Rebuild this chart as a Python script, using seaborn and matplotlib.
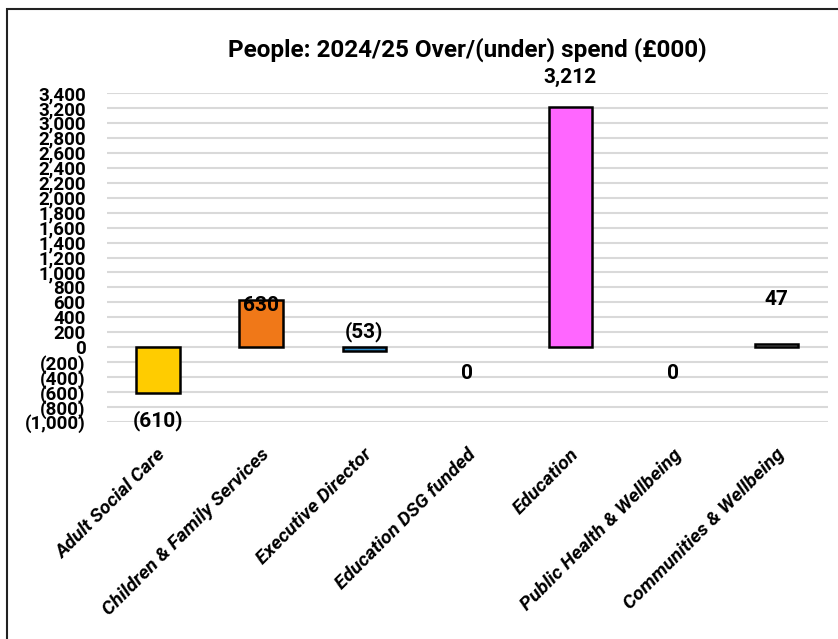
import matplotlib
matplotlib.use("Agg")
import matplotlib.pyplot as plt
import matplotlib.transforms as mtransforms
from matplotlib.patches import Rectangle
from matplotlib.ticker import FuncFormatter, MultipleLocator
import seaborn as sns
import pandas as pd

categories = ["Adult Social Care", "Children & Family Services", "Executive Director",
              "Education DSG funded", "Education", "Public Health & Wellbeing",
              "Communities & Wellbeing"]
values = [-610, 630, -53, 0, 3212, 0, 47]
colors = ["#FFCC00", "#F07818", "#2E8BC8", "#CCCCCC", "#FF66FF", "#CCCCCC", "#A6A6A6"]
title = "People: 2024/25 Over/(under) spend (£000)"

sns.set_theme(style="white")
plt.rcParams['font.family'] = ['Roboto', 'DejaVu Sans']

df = pd.DataFrame({"cat": categories, "val": values})

fig = plt.figure(figsize=(8.38, 6.39), dpi=100)
ax = fig.add_axes([106.5 / 838, 1 - 422 / 639, (828 - 106.5) / 838, (422 - 93) / 639])

sns.barplot(data=df, x="cat", y="val", hue="cat", palette=colors, legend=False,
            saturation=1, width=0.42, edgecolor="black", linewidth=1.8, ax=ax, zorder=3)
for p in ax.patches:
    if p.get_height() == 0:
        p.set_linewidth(0)
        p.set_alpha(0)

ax.set_ylim(-1000, 3400)
ax.set_xlim(-0.5, len(categories) - 0.5)
ax.yaxis.set_major_locator(MultipleLocator(200))


def fmt(v, pos):
    v = int(round(v))
    if v < 0:
        return "({:,})".format(-v)
    return "{:,}".format(v)


ax.yaxis.set_major_formatter(FuncFormatter(fmt))
ax.grid(axis="y", color="#D9D9D9", linewidth=1.5, zorder=0)
ax.grid(axis="x", visible=False)
for s in ax.spines.values():
    s.set_visible(False)
ax.tick_params(axis="both", length=0)
ax.tick_params(axis="y", pad=15)
for lab in ax.get_yticklabels():
    lab.set_fontsize(13.5)
    lab.set_fontweight("bold")
    lab.set_color("black")

ax.set_xlabel("")
ax.set_ylabel("")
ax.set_xticks(range(len(categories)))
ax.set_xticklabels(categories, rotation=45, ha="right", rotation_mode="anchor",
                   fontsize=14, fontweight="bold", fontstyle="italic", color="black")
ax.tick_params(axis="x", pad=17)
offset = mtransforms.ScaledTranslation(-1 / 100, 0, fig.dpi_scale_trans)
for lab in ax.get_xticklabels():
    lab.set_transform(lab.get_transform() + offset)

ax.set_title(title, fontsize=17.5, fontweight="bold", pad=26, color="black")

# data labels (offsets in points)
label_offsets = [-20, -4, 14, -19, 21, -19, 32]
for i, (v, off) in enumerate(zip(values, label_offsets)):
    txt = fmt(v, None)
    ax.annotate(txt, xy=(i, v), xytext=(0, off), textcoords="offset points",
                ha="center", va="center", fontsize=15, fontweight="bold",
                color="black", zorder=5)

fig.add_artist(Rectangle((7 / 838, -0.1), 2, 1 - 9 / 639 + 0.1, transform=fig.transFigure,
                         fill=False, edgecolor="#222222", linewidth=1.5))

fig.savefig("out.png", dpi=100, facecolor="white")
